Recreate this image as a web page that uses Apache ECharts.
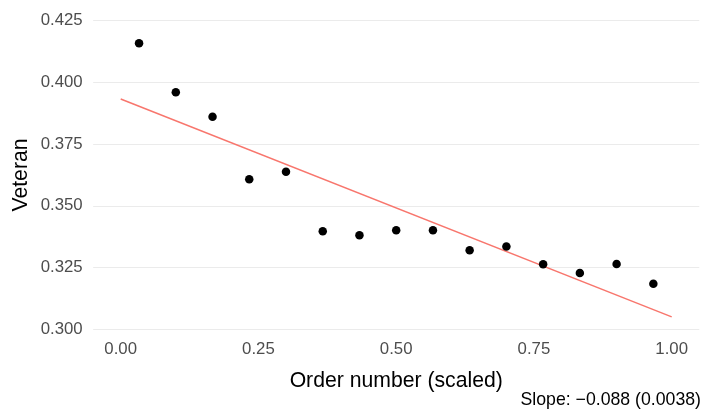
<!DOCTYPE html>
<html>
<head>
<meta charset="utf-8">
<script src="https://cdn.jsdelivr.net/npm/echarts@6/dist/echarts.min.js"></script>
<style>
html,body{margin:0;padding:0;background:#fff;}
#c{width:703px;height:414px;}
</style>
</head>
<body>
<div id="c"></div>
<script>
var orderScaled = [0.0333, 0.1, 0.1667, 0.2333, 0.3, 0.3667, 0.4333, 0.5, 0.5667, 0.6333, 0.7, 0.7667, 0.8333, 0.9, 0.9667];
var veteran = [0.4157, 0.3959, 0.3860, 0.3607, 0.3638, 0.3397, 0.3381, 0.3401, 0.3401, 0.3320, 0.3336, 0.3264, 0.3228, 0.3265, 0.3185];
var fitX = [0, 1];
var fitY = [0.3932, 0.3051];
var xTicks = [0, 0.25, 0.5, 0.75, 1];
var yTicks = [0.300, 0.325, 0.350, 0.375, 0.400, 0.425];
var xTitle = 'Order number (scaled)';
var yTitle = 'Veteran';
var caption = 'Slope: \u22120.088 (0.0038)';

var font = 'Liberation Sans, Arial, Helvetica, sans-serif';
var chart = echarts.init(document.getElementById('c'), null, {renderer: 'canvas'});
var pts = orderScaled.map(function (x, i) { return [x, veteran[i]]; });
var fit = fitX.map(function (x, i) { return [x, fitY[i]]; });

chart.setOption({
  animation: false,
  backgroundColor: '#ffffff',
  grid: {left: 93.15, right: 3.75, top: 20.3, bottom: 84.5, containLabel: false},
  xAxis: {
    type: 'value', min: -0.05, max: 1.05,
    axisLine: {show: false}, axisTick: {show: false},
    splitLine: {show: false},
    axisLabel: {
      customValues: xTicks,
      formatter: function (v) { return v.toFixed(2); },
      color: '#4D4D4D', fontSize: 16.8, fontFamily: font, margin: 11.5
    }
  },
  yAxis: {
    type: 'value', min: yTicks[0], max: yTicks[yTicks.length - 1], interval: 0.025,
    axisLine: {show: false}, axisTick: {show: false},
    splitLine: {show: true, lineStyle: {color: '#EBEBEB', width: 1.1}},
    axisLabel: {
      formatter: function (v) { return v.toFixed(3); },
      color: '#4D4D4D', fontSize: 16.8, fontFamily: font, margin: 10.5
    }
  },
  series: [
    {
      type: 'line', data: fit, showSymbol: false, symbol: 'none',
      lineStyle: {color: '#F8766D', width: 1.5}, z: 2
    },
    {
      type: 'scatter', data: pts, symbol: 'circle', symbolSize: 8.5,
      itemStyle: {color: '#000000', opacity: 1}, z: 3
    }
  ],
  graphic: [
    {type: 'text', x: 396.2, y: 381, style: {text: xTitle, fill: '#000', fontSize: 21.2, fontFamily: font, align: 'center', verticalAlign: 'middle'}},
    {type: 'text', x: 21, y: 175, rotation: Math.PI / 2, style: {text: yTitle, fill: '#000', fontSize: 21.2, fontFamily: font, align: 'center', verticalAlign: 'middle'}},
    {type: 'text', x: 701, y: 400, style: {text: caption, fill: '#000', fontSize: 17.7, fontFamily: font, align: 'right', verticalAlign: 'middle'}}
  ]
});
</script>
</body>
</html>
